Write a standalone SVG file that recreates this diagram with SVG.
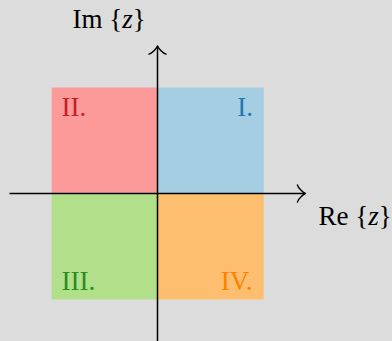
<svg xmlns="http://www.w3.org/2000/svg" width="392" height="341" viewBox="0 0 392 341">
  <style>
    .lbl { font-family: "Liberation Serif", "Times New Roman", serif; font-size: 27px; }
    .axis { stroke: #000; stroke-width: 1.5; fill: none; }
    .head { stroke: #000; stroke-width: 1.4; fill: none; stroke-linecap: round; stroke-linejoin: round; }
  </style>
  <defs>
    <path id="tip" d="M-8.1,-8.6 C-7.5,-5.4 -1.6,-0.5 0,0 C-1.6,0.5 -7.5,5.4 -8.1,8.6"/>
  </defs>
  <rect x="0" y="0" width="392" height="341" fill="#dcdcdc"/>

  <g id="quadrant-II">
    <rect x="51.7" y="87.5" width="106" height="106" fill="#fb9a99"/>
    <text class="lbl" x="61.5" y="115.5" fill="#c81e28">II.</text>
  </g>
  <g id="quadrant-I">
    <rect x="157.7" y="87.5" width="106" height="106" fill="#a6cee3"/>
    <text class="lbl" x="253" y="115.5" fill="#1f78b4" text-anchor="end">I.</text>
  </g>
  <g id="quadrant-III">
    <rect x="51.7" y="193.5" width="106" height="106" fill="#b2df8a"/>
    <text class="lbl" x="61.5" y="290" fill="#2a8c22">III.</text>
  </g>
  <g id="quadrant-IV">
    <rect x="157.7" y="193.5" width="106" height="106" fill="#fdbf6f"/>
    <text class="lbl" x="252.5" y="290" fill="#ff7f00" text-anchor="end">IV.</text>
  </g>

  <g id="connectors">
    <line class="axis" x1="9.5" y1="193.5" x2="305" y2="193.5"/>
    <use href="#tip" class="head" transform="translate(305.5,193.5)"/>
    <line class="axis" x1="157.5" y1="341" x2="157.5" y2="46.5"/>
    <use href="#tip" class="head" transform="translate(157.5,46) rotate(-90)"/>
  </g>

  <g id="label-im">
    <text class="lbl" x="72.5" y="27.7" fill="#000">Im {<tspan font-style="italic">z</tspan>}</text>
  </g>
  <g id="label-re">
    <text class="lbl" x="318.5" y="224.5" fill="#000">Re {<tspan font-style="italic">z</tspan>}</text>
  </g>
</svg>
